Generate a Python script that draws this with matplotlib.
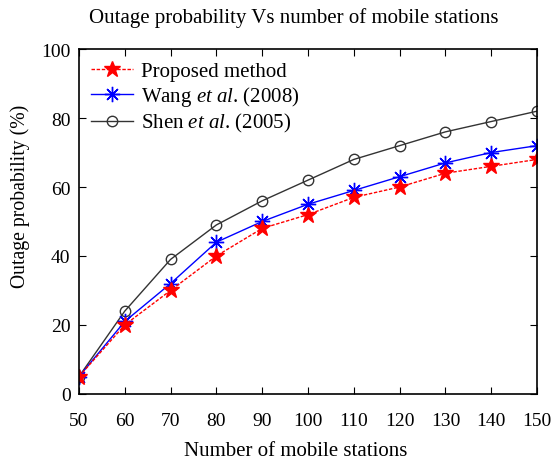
import matplotlib
matplotlib.use("Agg")
import matplotlib.pyplot as plt

plt.rcParams["font.family"] = ["Liberation Serif", "DejaVu Serif"]
plt.rcParams["mathtext.fontset"] = "custom"
plt.rcParams["mathtext.it"] = "Liberation Serif:italic"
plt.rcParams["mathtext.rm"] = "Liberation Serif"

stations = [50, 60, 70, 80, 90, 100, 110, 120, 130, 140, 150]
proposed = [5, 20, 30, 40, 48, 52, 57, 60, 64, 66, 68]
wang = [5, 21, 32, 44, 50, 55, 59, 63, 67, 70, 72]
shen = [5, 24, 39, 49, 56, 62, 68, 72, 76, 79, 82]

fig = plt.figure(figsize=(5.52, 4.64), dpi=100)
ax = fig.add_axes([0.143, 0.149, 0.830, 0.743])

ax.plot(stations, shen, color="#333333", lw=1.0, marker="o", ms=7.5,
        mfc="none", mec="#333333", mew=1.0, label=r"Shen $et\ al$. (2005)")
ax.plot(stations, wang, color="blue", lw=1.0, marker=(8, 2, 0), ms=11,
        mew=1.0, label=r"Wang $et\ al$. (2008)")
ax.plot(stations, proposed, color="red", lw=1.0, ls=(0, (2.5, 1.2)), marker="*",
        ms=12, mfc="red", mec="red", label="Proposed method")

ax.set_xlim(50, 150)
ax.set_ylim(0, 100)
ax.set_xticks(stations)
ax.set_yticks([0, 20, 40, 60, 80, 100])
ax.tick_params(direction="in", top=True, right=True, labelsize=14, length=5)
ax.tick_params(axis="x", pad=13)
ax.tick_params(axis="y", pad=6)
for s in ax.spines.values():
    s.set_linewidth(1.2)

ax.set_xlabel("Number of mobile stations", fontsize=15)
ax.xaxis.set_label_coords(0.474, -0.136)
ax.set_ylabel("Outage probability (%)", fontsize=14.2)
ax.yaxis.set_label_coords(-0.107, 0.577)
fig.text(0.532, 0.962, "Outage probability Vs number of mobile stations",
         ha="center", va="center", fontsize=15)

h, l = ax.get_legend_handles_labels()
ax.legend(h[::-1], l[::-1], loc="upper left", frameon=False, fontsize=15,
          handlelength=2.0, borderaxespad=0.2, labelspacing=0.15,
          handletextpad=0.4)

fig.savefig("out.png", dpi=100, facecolor="white")
